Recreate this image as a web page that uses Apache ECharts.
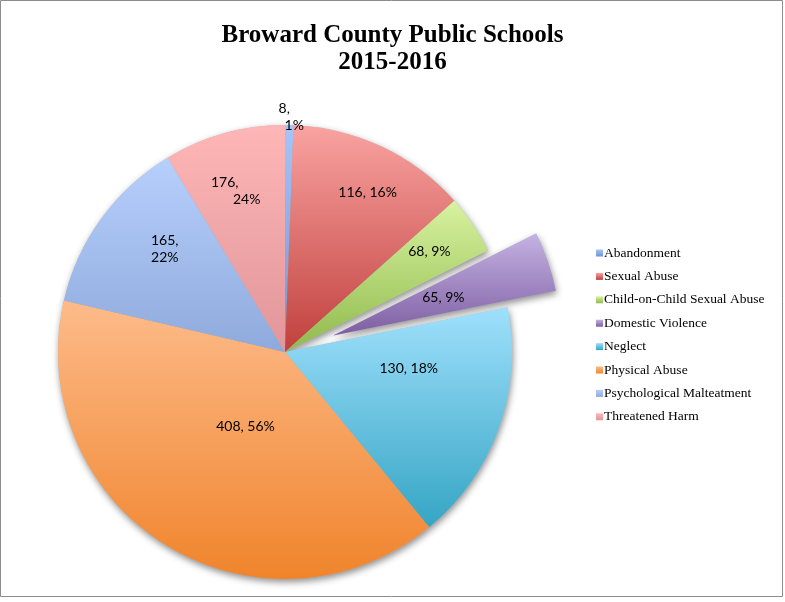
<!DOCTYPE html>
<html>
<head>
<meta charset="utf-8">
<script src="https://cdn.jsdelivr.net/npm/echarts@6/dist/echarts.min.js"></script>
<style>
html,body{margin:0;padding:0;background:#fff;}
#chart{width:785px;height:602px;}
</style>
</head>
<body>
<div id="chart"></div>
<script>
// ---- data ----
const categories = ['Abandonment','Sexual Abuse','Child-on-Child Sexual Abuse','Domestic Violence','Neglect','Physical Abuse','Psychological Malteatment','Threatened Harm'];
const sliceShares = [0.6, 12.8, 4.2, 4.25, 17.2, 39.6, 12.7, 8.65];
// numbers printed in the data labels
const counts = [8, 116, 68, 65, 130, 408, 165, 176];
const percentLabels = ['1%', '16%', '9%', '9%', '18%', '56%', '22%', '24%'];

// ---- styles ----
const topColors = ['#a8c4f8','#f9a3a1','#d8f2a0','#c4b2e2','#9fe0fc','#fdbb8a','#b7cffc','#ffb6b6'];
const bottomColors = ['#6f94d4','#c0403d','#8fba4c','#7e5ea2','#35a5c4','#f0842c','#8eaadc','#e0969a'];
const twoLine = [true, false, false, false, false, false, true, true];
const lineShift = [10, 0, 0, 0, 0, 0, 0, 22];
const labelOffsets = [[2,-119],[33,-54],[48,-35],[7,-3],[14,-23],[22,-24],[-26,-35],[-18,-49]];

const chart = echarts.init(document.getElementById('chart'), null, {renderer:'canvas'});
const grad = (i) => new echarts.graphic.LinearGradient(0,0,0,1,[{offset:0,color:topColors[i]},{offset:1,color:bottomColors[i]}]);
const font = {fontFamily:'Lato', fontSize:14, color:'#000'};

const mainData = categories.map((name,i)=>({
  name, value: sliceShares[i],
  selected: name === 'Domestic Violence',
  itemStyle:{color:grad(i)},
  label:{
    offset: labelOffsets[i],
    formatter: twoLine[i] ? ('{a|' + counts[i] + ',}\n{b|' + percentLabels[i] + '}') : ('{c|' + counts[i] + ', ' + percentLabels[i] + '}'),
    rich:{
      a: Object.assign({padding:[0, lineShift[i], 0, 0], lineHeight:17}, font),
      b: Object.assign({padding:[0, 0, 0, lineShift[i]], lineHeight:17}, font),
      c: Object.assign({lineHeight:17}, font)
    }
  }
}));
const shadowData = categories.map((name,i)=>({
  name, value: sliceShares[i],
  selected: name === 'Domestic Violence'
}));

chart.setOption({
  animation:false,
  backgroundColor:'#fff',
  title:{
    text:'Broward County Public Schools\n2015-2016',
    left:'center', top:17,
    textStyle:{fontFamily:'Liberation Serif', fontWeight:'bold', fontSize:25, lineHeight:27, color:'#000'}
  },
  legend:{
    orient:'vertical', left:591, top:241,
    data:categories,
    icon:'rect', itemWidth:7, itemHeight:7, itemGap:9.4,
    selectedMode:false,
    textStyle:{fontFamily:'Liberation Serif', fontSize:13.5, color:'#000', padding:[0,0,0,-4]}
  },
  graphic:[{type:'rect', shape:{x:0.5,y:0.5,width:782,height:596}, style:{fill:'none', stroke:'#8c8c8c', lineWidth:1}, silent:true, z:-1}],
  series:[
    {
      type:'pie', z:3,
      center:[285,352], radius:[0,227],
      startAngle:90, clockwise:true,
      selectedMode:'single', selectedOffset:51,
      avoidLabelOverlap:false,
      emphasis:{disabled:true}, silent:true,
      itemStyle:{borderWidth:0},
      label:{show:true, position:'inside'},
      labelLine:{show:false},
      data:mainData
    },
    {
      type:'pie', z:1,
      center:[285,352], radius:[0,227],
      startAngle:90, clockwise:true,
      selectedMode:'single', selectedOffset:51,
      emphasis:{disabled:true}, silent:true,
      itemStyle:{color:'#bbb', borderWidth:0, shadowBlur:7, shadowColor:'rgba(0,0,0,0.45)', shadowOffsetX:1, shadowOffsetY:3},
      label:{show:false}, labelLine:{show:false},
      data:shadowData
    }
  ]
});
</script>
</body>
</html>
